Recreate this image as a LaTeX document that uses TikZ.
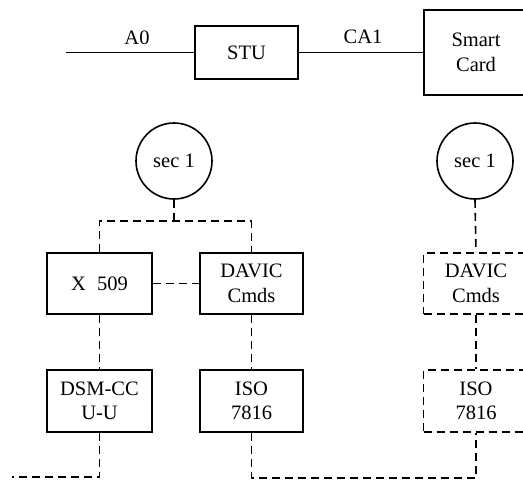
\documentclass[tikz,border=0pt]{standalone}
\usepackage{fontspec}
\setmainfont{Liberation Serif}
\begin{document}
\begin{tikzpicture}[x=1pt,y=1pt,
  every node/.style={font=\fontsize{20.5}{24.5}\selectfont, align=center, inner sep=0pt},
  blk/.style={draw, line width=1.6pt, minimum width=105pt, minimum height=61pt},
  dblk/.style={blk, dashed, dash pattern=on 8pt off 5pt},
  sec/.style={draw, circle, line width=1.6pt, minimum size=76pt},
  sl/.style={line width=1.6pt},
  dl/.style={line width=1.6pt, dash pattern=on 8pt off 5pt},
  lbl/.style={}]
\clip (0,0) rectangle (523,-480);
% top row
\coordinate (a0) at (66,-52.5);
\node[blk, minimum width=103pt, minimum height=53pt] (stu) at (246.5,-52.5) {STU};
\node[blk, minimum width=104pt, minimum height=85pt] (card) at (476,-52.5) {Smart\\Card};
\node[lbl] (la0) at (137,-38) {A0};
\node[lbl] (lca1) at (363,-37) {CA1};
\draw[sl] (a0) -- (stu.west);
\draw[sl] (stu.east) -- (card.west);
% sec circles
\node[sec] (secL) at (174,-161) {sec 1};
\node[sec] (secR) at (475,-161) {sec 1};
% left stack
\node[blk] (x509) at (99.5,-283.5) {X\hspace{0.55em}509};
\node[blk, minimum width=103pt] (davic) at (251.5,-283.5) {DAVIC\\Cmds};
\node[blk, minimum height=62pt] (dsm) at (99.5,-401) {DSM-CC\\U-U};
\node[blk, minimum width=103pt, minimum height=62pt] (iso) at (251.5,-401) {ISO\\7816};
% right stack
\node[dblk] (davicR) at (476,-283.5) {DAVIC\\Cmds};
\node[dblk, minimum height=62pt] (isoR) at (476,-401) {ISO\\7816};
% connectors
\coordinate (fork) at (174,-221);
\coordinate (endL) at (12,-477);
\draw[dl] (secL.south) -- (fork);
\draw[dl] (x509.north) |- (fork) -| (davic.north);
\draw[dl] (x509.east) -- (davic.west);
\draw[dl] (x509.south) -- (dsm.north);
\draw[dl] (davic.south) -- (iso.north);
\draw[dl] (secR.south) -- (davicR.north);
\draw[dl] (davicR.south) -- (isoR.north);
\draw[dl] (dsm.south) |- (endL);
\draw[dl] (iso.south) -- ++(0,-45) -| (isoR.south);
\end{tikzpicture}
\end{document}
